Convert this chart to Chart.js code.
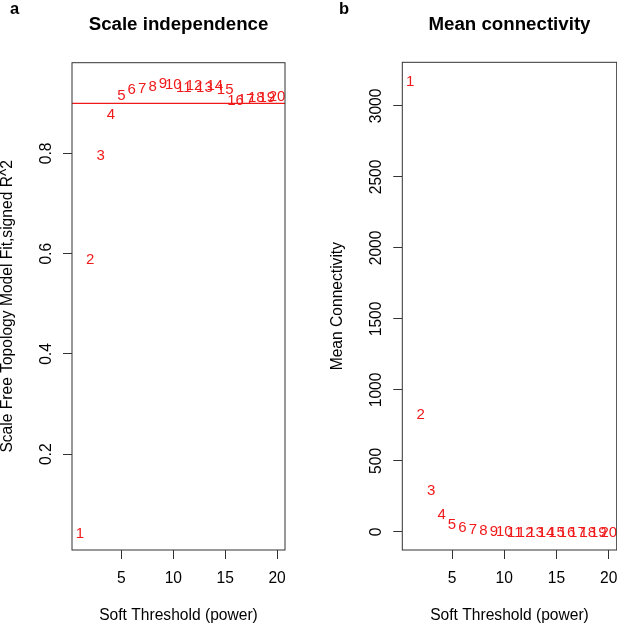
<!DOCTYPE html>
<html>
<head>
<meta charset="utf-8">
<script src="https://cdn.jsdelivr.net/npm/chart.js@4.4.1/dist/chart.umd.min.js"></script>
<style>
    html, body { margin: 0; padding: 0; background: #fff; }
    #wrap { position: relative; width: 617px; height: 625px; }
    #wrap canvas { position: absolute; left: 0; top: 0; }
</style>
</head>
<body>
<div id="wrap">
    <canvas id="scaleChart" width="617" height="625" style="width:617px;height:625px"></canvas>
    <canvas id="connChart" width="617" height="625" style="width:617px;height:625px"></canvas>
</div>
<script>
// soft threshold powers (x) and the two series
const powers = [1, 2, 3, 4, 5, 6, 7, 8, 9, 10, 11, 12, 13, 14, 15, 16, 17, 18, 19, 20];
const sftFit = [0.043, 0.59, 0.798, 0.88, 0.918, 0.930, 0.932, 0.935, 0.941, 0.939, 0.933, 0.937, 0.933, 0.937, 0.930, 0.907, 0.910, 0.913, 0.913, 0.915];
const meanConn = [3178, 834, 298, 128, 62, 35, 22, 14, 9.5, 6.5, 4.6, 3.3, 2.4, 1.8, 1.4, 1.1, 0.9, 0.7, 0.6, 0.5];
const fitCutoff = 0.90;

// axis ticks and limits
const xTicks = [5, 10, 15, 20];
const fitTicks = [0.2, 0.4, 0.6, 0.8];
const connTicks = [0, 500, 1000, 1500, 2000, 2500, 3000];
const xLimits = [0.24, 20.76];
const fitLimits = [0.009, 0.981];
const connLimits = [-127, 3307];

const FONT = '"Liberation Sans", Arial, Helvetica, sans-serif';
const RED = '#f01a1a';
const AXIS = '#333';
const LABEL_SIZE = 15;

Chart.defaults.font.family = FONT;

// box, rotated y tick labels, main title and panel letter (R base-graphics look)
const rFrame = {
    id: 'rFrame',
    afterDraw(chart, args, opts) {
        const ctx = chart.ctx;
        const area = chart.chartArea;
        const y = chart.scales.y;
        ctx.save();
        ctx.strokeStyle = AXIS;
        ctx.lineWidth = 1;
        ctx.strokeRect(area.left, area.top, area.right - area.left, area.bottom - area.top);

        ctx.fillStyle = '#000';
        ctx.font = '15.6px ' + FONT;
        ctx.textAlign = 'center';
        ctx.textBaseline = 'alphabetic';
        y.ticks.forEach(t => {
            ctx.save();
            ctx.translate(area.left - 21, y.getPixelForValue(t.value));
            ctx.rotate(-Math.PI / 2);
            ctx.fillText(String(t.value), 0, 0);
            ctx.restore();
        });

        ctx.font = 'bold 18.7px ' + FONT;
        ctx.fillText(opts.title, (area.left + area.right) / 2, 30);
        ctx.textAlign = 'left';
        ctx.font = 'bold 16.5px ' + FONT;
        ctx.fillText(opts.letter, opts.letterX, 13.5);
        ctx.restore();
    }
};

// the points are drawn as their power number, like text(x, y, labels=powers)
const powerLabels = {
    id: 'powerLabels',
    beforeDatasetsDraw(chart, args, opts) {
        if (opts.cutoff == null) return;
        const ctx = chart.ctx;
        const area = chart.chartArea;
        const py = chart.scales.y.getPixelForValue(opts.cutoff);
        ctx.save();
        ctx.strokeStyle = RED;
        ctx.lineWidth = 1.3;
        ctx.beginPath();
        ctx.moveTo(area.left, py);
        ctx.lineTo(area.right, py);
        ctx.stroke();
        ctx.restore();
    },
    afterDatasetsDraw(chart) {
        const ctx = chart.ctx;
        const meta = chart.getDatasetMeta(0);
        ctx.save();
        ctx.fillStyle = RED;
        ctx.font = LABEL_SIZE + 'px ' + FONT;
        ctx.textAlign = 'center';
        ctx.textBaseline = 'alphabetic';
        meta.data.forEach((pt, i) => {
            ctx.fillText(String(powers[i]), pt.x, pt.y + LABEL_SIZE * 0.36);
        });
        ctx.restore();
    }
};

function fixedTicks(values) {
    return scale => { scale.ticks = values.map(v => ({ value: v })); };
}

function makePanel(id, values, yLimits, yTicks, yTitle, panel) {
    new Chart(document.getElementById(id), {
        type: 'scatter',
        data: {
            datasets: [{
                data: powers.map((p, i) => ({ x: p, y: values[i] })),
                pointRadius: 0,
                showLine: false
            }]
        },
        options: {
            responsive: false,
            animation: false,
            events: [],
            layout: { padding: panel.padding },
            plugins: {
                legend: { display: false },
                tooltip: { enabled: false },
                rFrame: { title: panel.title, letter: panel.letter, letterX: panel.letterX },
                powerLabels: { cutoff: panel.cutoff }
            },
            scales: {
                x: {
                    type: 'linear',
                    min: xLimits[0],
                    max: xLimits[1],
                    afterBuildTicks: fixedTicks(xTicks),
                    afterFit: scale => { scale.height = 75; scale.paddingLeft = 0; scale.paddingRight = 0; },
                    ticks: { color: '#000', font: { size: 15.6 }, padding: 10, maxRotation: 0, callback: v => String(v) },
                    grid: { display: true, drawOnChartArea: false, drawTicks: true, tickLength: 9, color: AXIS, lineWidth: 1 },
                    border: { display: false },
                    title: { display: true, text: 'Soft Threshold (power)', color: '#000', font: { size: 15.6, lineHeight: 1.2 }, padding: 0 }
                },
                y: {
                    type: 'linear',
                    min: yLimits[0],
                    max: yLimits[1],
                    afterBuildTicks: fixedTicks(yTicks),
                    afterFit: scale => { scale.width = panel.yWidth; scale.paddingTop = 0; scale.paddingBottom = 0; },
                    ticks: { color: 'rgba(0,0,0,0)', font: { size: 15.6 }, callback: v => String(v) },
                    grid: { display: true, drawOnChartArea: false, drawTicks: true, tickLength: 9, color: AXIS, lineWidth: 1 },
                    border: { display: false },
                    title: { display: true, text: yTitle, color: '#000', font: { size: 15.6, lineHeight: 1 }, padding: 0 }
                }
            }
        },
        plugins: [rFrame, powerLabels]
    });
}

makePanel('scaleChart', sftFit, fitLimits, fitTicks, 'Scale Free Topology Model Fit,signed R^2', {
    title: 'Scale independence', letter: 'a', letterX: 10, cutoff: fitCutoff,
    padding: { left: 0, right: 332, top: 62.7, bottom: 0 }, yWidth: 72
});

makePanel('connChart', meanConn, connLimits, connTicks, 'Mean Connectivity', {
    title: 'Mean connectivity', letter: 'b', letterX: 339, cutoff: null,
    padding: { left: 330, right: 0.3, top: 62.3, bottom: 0 }, yWidth: 72.3
});
</script>
</body>
</html>
